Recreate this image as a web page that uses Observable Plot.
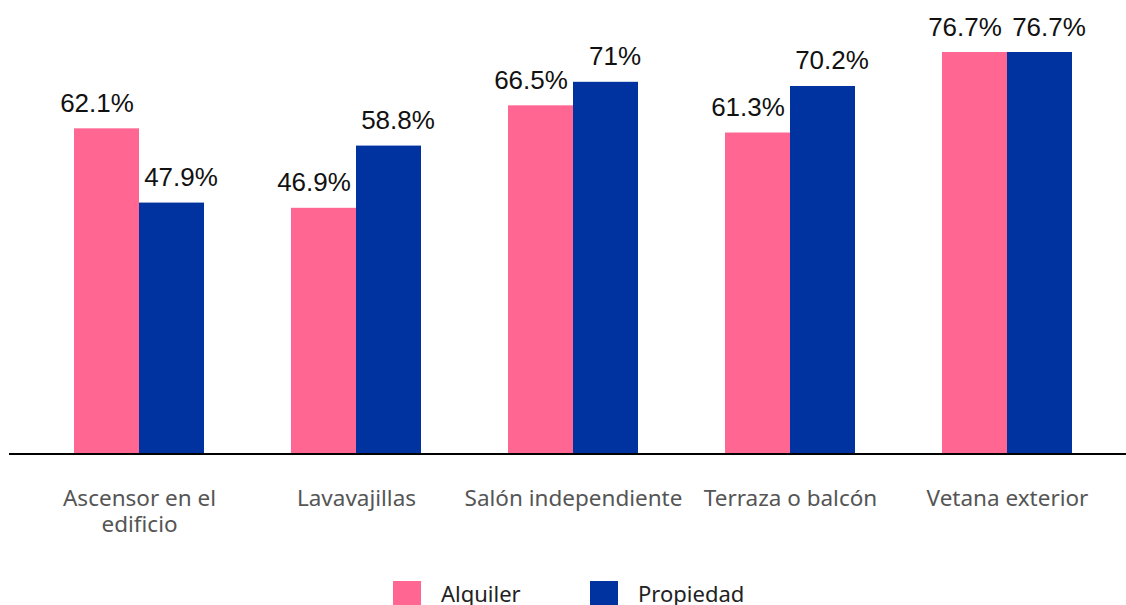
<!DOCTYPE html>
<html>
<head>
<meta charset="utf-8">
<script src="https://cdn.jsdelivr.net/npm/d3@7"></script>
<script src="https://cdn.jsdelivr.net/npm/@observablehq/plot@0.6"></script>
<style>
  html, body { margin: 0; padding: 0; background: #fff; }
  #wrap { position: relative; width: 1126px; height: 605px; overflow: hidden; }
  #legend { position: absolute; left: 0; top: 565px; width: 1126px; height: 40px;
            font-family: "Noto Sans", sans-serif; font-size: 22px; color: #222; }
  .sw { position: absolute; top: 16px; width: 28px; height: 28px; }
  .lb { position: absolute; top: 14px; line-height: 28px; }
</style>
</head>
<body>
<div id="wrap"><div id="chart"></div><div id="legend"></div></div>
<script>
const categories = ["Ascensor en el edificio", "Lavavajillas", "Salón independiente", "Terraza o balcón", "Vetana exterior"];
const tickLabels = ["Ascensor en el\nedificio", "Lavavajillas", "Salón independiente", "Terraza o balcón", "Vetana exterior"];
const series = ["Alquiler", "Propiedad"];
const alquiler = [62.1, 46.9, 66.5, 61.3, 76.7];
const propiedad = [47.9, 58.8, 71, 70.2, 76.7];
const colors = ["#FF6692", "#0033A0"];

const data = [];
categories.forEach((c, i) => {
  data.push({cat: c, serie: series[0], value: alquiler[i]});
  data.push({cat: c, serie: series[1], value: propiedad[i]});
});

const labelStyle = {fx: "cat", x: "serie", y: "value", text: d => `${d.value}%`,
  lineAnchor: "bottom", dy: -17, fontSize: 26, fill: "#111",
  fontFamily: "'Liberation Sans', Arial, sans-serif"};

const W = 1126, H = 565;
const chart = Plot.plot({
  width: W,
  height: H,
  marginLeft: 9,
  marginRight: 0,
  marginTop: 52,
  marginBottom: H - 453,
  style: {background: "#fff"},
  fx: {domain: categories, paddingInner: 0.4, paddingOuter: 0.271, align: 0.55, label: null},
  x: {domain: series, padding: 0, axis: null},
  y: {domain: [0, 76.7], axis: null},
  color: {domain: series, range: colors},
  marks: [
    Plot.barY(data, {fx: "cat", x: "serie", y: "value", fill: "serie"}),
    Plot.text(data.filter(d => d.serie === series[0]), {...labelStyle, dx: -10}),
    Plot.text(data.filter(d => d.serie === series[1]), {...labelStyle, dx: 9}),
    Plot.axisFx({anchor: "bottom", tickSize: 0, tickPadding: 35, fontSize: 22.5, fill: "#555", lineHeight: 1.12,
      fontFamily: "'Noto Sans', sans-serif", label: null,
      tickFormat: c => tickLabels[categories.indexOf(c)]})
  ]
});
// baseline across the full plot width, positioned from the plot's own scales
const yScale = chart.scale("y");
const fxScale = chart.scale("fx");
const y0 = yScale.apply(0);
d3.select(chart).append("line")
  .attr("x1", fxScale.range[0]).attr("x2", fxScale.range[1])
  .attr("y1", y0 + 1).attr("y2", y0 + 1)
  .attr("stroke", "#000").attr("stroke-width", 2);
document.getElementById("chart").appendChild(chart);

const legend = document.getElementById("legend");
const pos = [[393, 441], [590, 638]];
series.forEach((s, i) => {
  const sw = document.createElement("div");
  sw.className = "sw"; sw.style.left = pos[i][0] + "px"; sw.style.background = colors[i];
  const lb = document.createElement("div");
  lb.className = "lb"; lb.style.left = pos[i][1] + "px"; lb.textContent = s;
  legend.appendChild(sw); legend.appendChild(lb);
});
</script>
</body>
</html>
